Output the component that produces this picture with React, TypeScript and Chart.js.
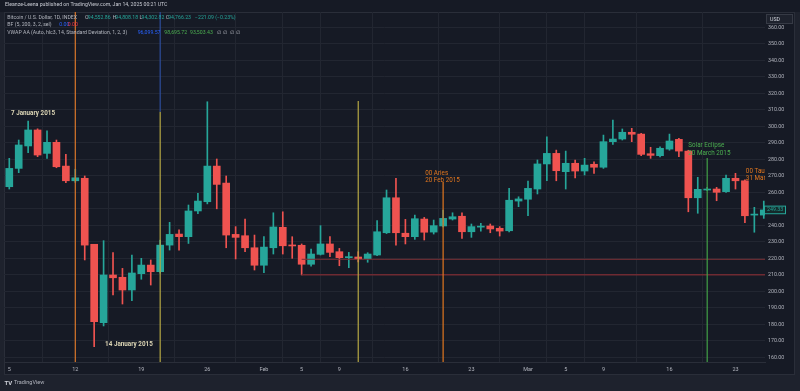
import React, { useEffect, useRef } from "react";
import { Chart, registerables } from "chart.js";

Chart.register(...registerables);

const FONT = "Roboto, 'Liberation Sans', Arial, sans-serif";

// Day offsets from 5 January 2015 (daily candles)
const dayIndex = [
  0, 1, 2, 3, 4, 5, 6, 7, 8, 9, 10, 11, 12, 13, 14, 15, 16, 17, 18, 19,
  20, 21, 22, 23, 24, 25, 26, 27, 28, 29, 30, 31, 32, 33, 34, 35, 36, 37, 38, 39,
  40, 41, 42, 43, 44, 45, 46, 47, 48, 49, 50, 51, 52, 53, 54, 55, 56, 57, 58, 59,
  60, 61, 62, 63, 64, 65, 66, 67, 68, 69, 70, 71, 72, 73, 74, 75, 76, 77, 78, 79, 80,
];

const opens = [
  263.4, 274.5, 288.1, 297.8, 283.6, 290.3, 275.9, 267.0, 268.5, 228.5,
  181.0, 209.9, 208.5, 200.8, 210.7, 215.9, 211.9, 228.0, 234.7, 233.1,
  248.7, 254.3, 275.9, 265.6, 234.5, 233.7, 226.4, 215.8, 226.4, 238.8,
  228.0, 227.9, 216.4, 222.4, 228.7, 224.0, 220.4, 220.8, 219.8, 222.0,
  235.5, 256.7, 235.2, 233.1, 243.8, 235.9, 239.6, 243.8, 245.5, 236.1,
  238.9, 239.6, 238.2, 236.7, 254.7, 255.8, 262.0, 277.2, 283.6, 272.5,
  277.6, 272.9, 277.0, 275.2, 290.7, 292.3, 296.4, 295.3, 283.4, 282.2,
  286.2, 292.1, 285.0, 256.7, 261.4, 262.0, 260.4, 268.5, 267.0, 246.2, 246.2,
];
const highs = [
  280.6, 291.7, 303.2, 298.5, 297.2, 291.7, 283.0, 274.0, 269.9, 228.5,
  230.7, 223.4, 213.9, 222.0, 220.0, 219.0, 231.0, 241.8, 237.2, 252.3,
  259.4, 314.9, 280.2, 269.9, 239.2, 243.8, 234.1, 233.1, 247.6, 248.2,
  233.1, 228.7, 225.6, 239.8, 233.1, 226.0, 223.6, 224.0, 223.4, 242.8,
  261.4, 268.5, 243.6, 246.2, 244.8, 243.2, 249.3, 247.6, 247.6, 240.8,
  241.2, 240.8, 239.2, 262.4, 257.3, 266.8, 279.6, 293.7, 285.6, 285.0,
  279.6, 280.6, 278.5, 294.7, 303.8, 298.4, 298.8, 295.8, 287.3, 287.6,
  295.3, 292.7, 285.5, 269.1, 263.0, 263.0, 270.5, 271.5, 267.5, 250.9, 254.7,
];
const lows = [
  262.0, 271.9, 284.0, 281.6, 280.6, 274.9, 265.8, 266.0, 219.0, 166.4,
  179.0, 197.8, 192.3, 194.3, 207.3, 203.8, 211.0, 225.0, 225.0, 229.0,
  247.0, 253.0, 250.0, 226.4, 219.6, 224.0, 212.9, 211.3, 222.6, 222.6,
  220.0, 209.9, 215.3, 222.0, 221.0, 215.5, 214.3, 217.8, 217.6, 221.6,
  235.0, 228.0, 228.7, 231.5, 231.1, 234.7, 239.0, 243.2, 232.1, 232.7,
  236.5, 235.5, 233.5, 236.0, 251.3, 245.8, 259.0, 267.0, 267.0, 262.0,
  268.8, 270.5, 271.5, 274.5, 289.1, 291.7, 290.7, 282.2, 280.6, 281.5,
  285.5, 281.6, 248.2, 247.3, 261.0, 254.9, 260.0, 262.0, 241.6, 235.8, 244.2,
];
const closes = [
  274.5, 288.7, 297.8, 282.6, 290.3, 275.5, 267.0, 268.8, 228.0, 181.6,
  209.9, 208.2, 200.8, 211.1, 215.9, 211.9, 228.0, 234.5, 233.1, 248.7,
  254.7, 275.9, 264.8, 234.1, 232.7, 226.4, 215.8, 226.8, 239.0, 227.6,
  227.5, 216.4, 222.6, 228.7, 223.6, 220.4, 221.0, 219.6, 222.6, 236.1,
  256.7, 235.5, 233.1, 244.0, 235.8, 239.8, 244.2, 245.2, 236.1, 239.2,
  239.5, 237.8, 236.5, 255.2, 256.0, 262.4, 277.2, 283.6, 273.1, 277.6,
  272.9, 276.5, 275.2, 290.7, 292.3, 296.4, 295.2, 283.0, 282.4, 286.7,
  291.1, 285.0, 256.7, 261.8, 262.0, 260.0, 268.5, 267.0, 245.8, 246.6, 249.33,
];

// Axis ticks
const xTickDays = [0, 7, 14, 21, 27, 31, 35, 42, 49, 55, 59, 63, 70, 77];
const xTickLabels = ["5", "12", "19", "26", "Feb", "5", "9", "16", "23", "Mar", "5", "9", "16", "23"];
const priceTicks = [160, 170, 180, 190, 200, 210, 220, 230, 240, 250, 260, 270, 280, 290, 300, 310, 320, 330, 340, 350, 360];

// Horizontal levels (start day, price)
const levelPrices = [219.4, 210.0];
const levelStartDay = 31;

// Vertical drawings: day, top price, bottom price
const markerDays = [7, 16, 16, 37, 46, 74];
const markerTops = [369.3, 369.3, 308.8, 315.4, 266.2, 280.8];
const markerBottoms = [157.15, 308.8, 157.15, 157.15, 157.15, 157.15];

// Annotations: day, price (first line), text lines
const annotationDays = [0.18, 10.16, 44.1, 72.0, 78.1];
const annotationPrices = [308.0, 168.0, 271.5, 288.2, 272.5];
const annotationLines = [
  ["7 January 2015"],
  ["14 January 2015"],
  ["00 Aries", "20 Feb 2015"],
  ["Solar Eclipse", "20 March 2015"],
  ["00 Taurus", "31 March 2015"],
];

const UP = "#26a69a";
const DOWN = "#ef5350";
const GRID = "#222631";
const BG = "#161a25";
const OUTER = "#1e222d";
const TEXT = "#b2b5be";
const markerColors = ["#d9772b", "#2e4d9c", "#b5a743", "#b5a743", "#e0761f", "#43a047"];
const annotationColors = ["#dcd5b5", "#dcd5b5", "#e0761f", "#4caf50", "#e0761f"];
const annotationWeights = ["bold", "bold", "normal", "normal", "normal"];

const HEADER_LINE1 = "Eleanze-Leena published on TradingView.com, Jan 14, 2025 00:21 UTC";

export default function App() {
  const ref = useRef<HTMLCanvasElement>(null);

  useEffect(() => {
    document.body.style.margin = "0";
    const canvas = ref.current!;
    const colors = closes.map((c, i) => (c >= opens[i] ? UP : DOWN));

    const overlay = {
      id: "overlay",
      beforeDraw(chart: any) {
        const c = chart.ctx;
        c.save();
        c.fillStyle = OUTER;
        c.fillRect(0, 0, 800, 391);
        c.fillStyle = BG;
        c.fillRect(0, 0, 800, 12);
        c.fillRect(4, 12, 791, 363);
        c.strokeStyle = "#2a2e39";
        c.lineWidth = 1;
        c.strokeRect(4.5, 12.5, 790, 362);
        c.restore();
      },
      afterDraw(chart: any) {
        const c = chart.ctx;
        const xs = chart.scales.x;
        const ys = chart.scales.y;
        const area = chart.chartArea;
        const txt = (s: string, x: number, y: number, color: string, size = 5.5, weight = "normal") => {
          c.font = `${weight} ${size}px ${FONT}`;
          c.fillStyle = color;
          c.textBaseline = "middle";
          c.textAlign = "left";
          c.fillText(s, x, y);
        };
        c.save();
        // annotations clipped to plot area
        c.beginPath();
        c.rect(area.left, area.top, area.right - area.left, area.bottom - area.top);
        c.clip();
        annotationLines.forEach((lines, i) => {
          const x = xs.getPixelForValue(annotationDays[i]);
          const y0 = ys.getPixelForValue(annotationPrices[i]);
          lines.forEach((l, k) => txt(l, x, y0 + k * 7.2, annotationColors[i], 6.3, annotationWeights[i]));
        });
        c.restore();

        c.save();
        // header: size chosen so the first line spans its width in the reference
        c.font = `normal 10px ${FONT}`;
        const hs = (10 * 163) / c.measureText(HEADER_LINE1).width;
        txt(HEADER_LINE1, 5, 5, "#c8cbd3", hs);
        txt("Bitcoin / U.S. Dollar, 1D, INDEX", 7.3, 17.7, TEXT, hs);
        txt("O", 85, 17.7, TEXT, hs);
        txt("94,552.86", 87.8, 17.7, UP, hs);
        txt("H", 112.7, 17.7, TEXT, hs);
        txt("94,808.18", 115.3, 17.7, UP, hs);
        txt("L", 139.5, 17.7, TEXT, hs);
        txt("94,302.82", 141.5, 17.7, UP, hs);
        txt("C", 165.8, 17.7, TEXT, hs);
        txt("94,766.23", 168.2, 17.7, UP, hs);
        txt("\u2212221.09 (\u22120.23%)", 195, 17.7, UP, hs);
        txt("BF (5, 200, 3, 2, sel)", 7.3, 24.8, TEXT, hs);
        txt("0.00", 59.3, 24.8, "#2962ff", hs);
        txt("0.00", 67.7, 24.8, "#f23645", hs);
        txt("VWAP AA (Auto, hlc3, 14, Standard Deviation, 1, 2, 3)", 7.3, 33, TEXT, hs);
        txt("96,099.57", 137.7, 33, "#2962ff", hs);
        txt("98,695.72", 164.3, 33, "#4caf50", hs);
        txt("93,503.43", 190, 33, "#4caf50", hs);
        txt("\u2205  \u2205  \u2205  \u2205", 216.7, 33, TEXT, hs);

        // USD box
        c.fillStyle = "#1e222d";
        c.fillRect(766, 14, 27, 10);
        c.strokeStyle = "#363a45";
        c.strokeRect(766.5, 14.5, 26, 9);
        txt("USD", 770, 19.3, "#d1d4dc", 5.3);

        // last price label
        const last = closes[closes.length - 1];
        const ly = ys.getPixelForValue(last);
        c.fillStyle = "#142a2b";
        c.fillRect(764.5, ly - 3.8, 21, 7.6);
        c.strokeStyle = UP;
        c.strokeRect(764.5, ly - 3.8, 21, 7.6);
        txt(last.toFixed(2), 767, ly, UP, 5.3);

        // bottom logo
        txt("TV", 4.5, 383, "#d1d4dc", 6, "bold");
        txt("TradingView", 14, 383, "#b2b5be", 5.5);
        c.restore();
      },
    };

    const chart = new Chart(canvas, {
      type: "bar",
      data: {
        datasets: [
          ...markerDays.map((d, i) => ({
            type: "line" as const,
            data: [
              { x: d, y: markerTops[i] },
              { x: d, y: markerBottoms[i] },
            ],
            borderColor: markerColors[i],
            borderWidth: 1.2,
            pointRadius: 0,
            order: 0,
          })),
          ...levelPrices.map((p, i) => ({
            type: "line" as const,
            data: [
              { x: levelStartDay, y: p },
              { x: 81, y: p },
            ],
            borderColor: i === 0 ? "#7a3036" : "#6e2a32",
            borderWidth: i === 0 ? 1 : 1.6,
            pointRadius: 0,
            order: 1,
          })),
          {
            type: "bar" as const,
            data: dayIndex.map((d, i) => ({ x: d, y: [opens[i], closes[i]] })),
            backgroundColor: colors,
            barThickness: 7,
            minBarLength: 1,
            grouped: false,
            order: 2,
          },
          {
            type: "bar" as const,
            data: dayIndex.map((d, i) => ({ x: d, y: [lows[i], highs[i]] })),
            backgroundColor: colors,
            barThickness: 1,
            grouped: false,
            order: 3,
          },
        ] as any,
      },
      options: {
        animation: false,
        responsive: false,
        devicePixelRatio: 1,
        layout: { padding: { left: 4, right: 5, top: 12, bottom: 16 } },
        plugins: { legend: { display: false }, tooltip: { enabled: false } },
        scales: {
          x: {
            type: "linear",
            min: -0.56,
            max: 80.13,
            offset: false,
            grid: { color: GRID, drawTicks: false },
            border: { display: true, color: "#2a2e39" },
            afterBuildTicks: (s: any) => {
              s.ticks = xTickDays.map((v) => ({ value: v }));
            },
            afterFit: (s: any) => {
              s.height = 13;
            },
            ticks: {
              autoSkip: false,
              maxRotation: 0,
              color: TEXT,
              padding: 4,
              font: { family: FONT, size: 5.5 },
              callback: (v: any) => {
                const k = xTickDays.indexOf(Number(v));
                return k >= 0 ? xTickLabels[k] : "";
              },
            },
          },
          y: {
            type: "linear",
            position: "right",
            min: 157.15,
            max: 369.3,
            grid: { color: GRID, drawTicks: false },
            border: { display: false },
            afterBuildTicks: (s: any) => {
              s.ticks = priceTicks.map((v) => ({ value: v }));
            },
            afterFit: (s: any) => {
              s.width = 30;
            },
            ticks: {
              color: TEXT,
              padding: 3,
              font: { family: FONT, size: 5.3 },
              callback: (v: any) => Number(v).toFixed(2),
            },
          },
        },
      } as any,
      plugins: [overlay],
    });
    return () => chart.destroy();
  }, []);

  return <canvas ref={ref} width={800} height={391} style={{ display: "block" }} />;
}
